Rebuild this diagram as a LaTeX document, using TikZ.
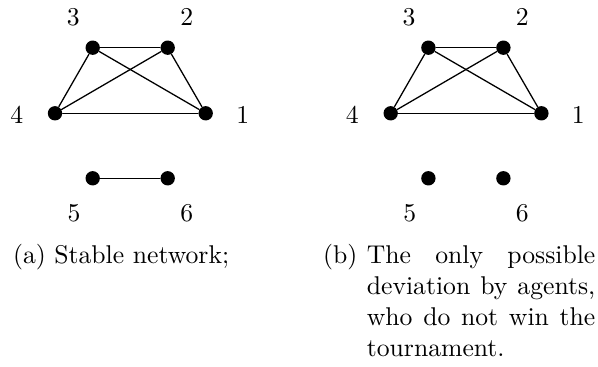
\documentclass[tikz,border=0pt]{standalone}
\usetikzlibrary{positioning}

\begin{document}
\begin{tikzpicture}[
		x=0.3895pt,
		y=0.3895pt,
		line cap=round,
		line join=round,
		agent/.style={circle, fill=black, inner sep=0pt, minimum size=5.6pt},
		num/.style={inner sep=0pt},
		link/.style={line width=0.5pt},
		caption/.style={inner sep=0pt, anchor=base west}
		]
		
		\useasboundingbox (0,0) rectangle (598,367);
		
		%------------------------------------------------------------------
		% (a) Stable network
		%------------------------------------------------------------------
		\node[agent] (a1) at (205.7,253.7) {};
		\node[agent] (a2) at (167.7,319.3) {};
		\node[agent] (a3) at ( 92.7,319.3) {};
		\node[agent] (a4) at ( 55.0,253.7) {};
		\node[agent] (a5) at ( 92.7,188.7) {};
		\node[agent] (a6) at (167.7,188.7) {};
		
		\foreach \u/\v in {1/2,1/3,1/4,2/3,2/4,3/4,5/6}
		\draw[link] (a\u) -- (a\v);
		
		\node[num] (la1) at (242.7,252.0) {1};
		\node[num] (la2) at (186.7,349.7) {2};
		\node[num] (la3) at ( 73.3,349.7) {3};
		\node[num] (la4) at ( 16.7,252.0) {4};
		\node[num] (la5) at ( 74.0,153.7) {5};
		\node[num] (la6) at (186.7,153.7) {6};
		
		%------------------------------------------------------------------
		% (b) Deviation
		%------------------------------------------------------------------
		\begin{scope}[shift={(335.7,0)}]
			\node[agent] (b1) at (205.7,253.7) {};
			\node[agent] (b2) at (167.7,319.3) {};
			\node[agent] (b3) at ( 92.7,319.3) {};
			\node[agent] (b4) at ( 55.0,253.7) {};
			\node[agent] (b5) at ( 92.7,188.7) {};
			\node[agent] (b6) at (167.7,188.7) {};
			
			\foreach \u/\v in {1/2,1/3,1/4,2/3,2/4,3/4}
			\draw[link] (b\u) -- (b\v);
			
			\node[num] (lb1) at (242.7,252.0) {1};
			\node[num] (lb2) at (186.7,349.7) {2};
			\node[num] (lb3) at ( 73.3,349.7) {3};
			\node[num] (lb4) at ( 16.7,252.0) {4};
			\node[num] (lb5) at ( 74.0,153.7) {5};
			\node[num] (lb6) at (186.7,153.7) {6};
		\end{scope}
		
		%------------------------------------------------------------------
		% Captions
		%------------------------------------------------------------------
		\node[caption] (capA) at (12.5,103) {(a) Stable network;};
		
		\node[caption] (capBlbl) at (322.5,103) {(b)};
		\node[caption, text width=89pt, align=justify,
		right=3.333pt of capBlbl.base east, anchor=base west] (capBtxt)
		{The only possible deviation by agents, who do not win the tournament.};
		
	\end{tikzpicture}
\end{document}
